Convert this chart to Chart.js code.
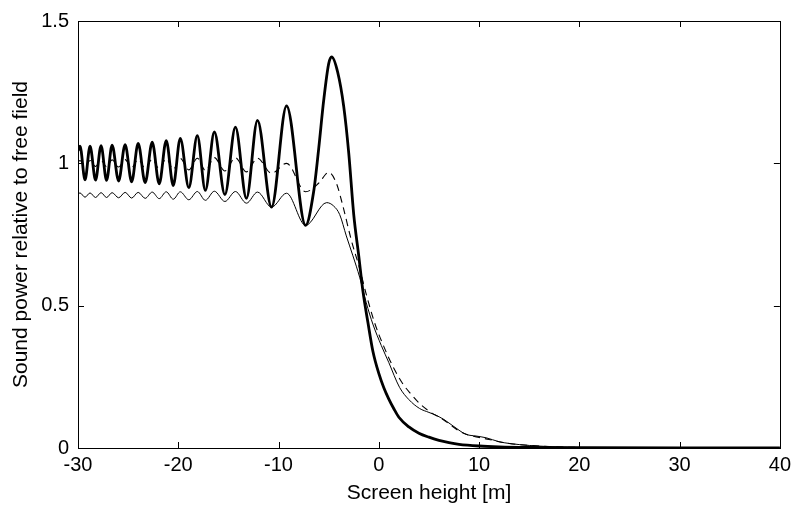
<!DOCTYPE html>
<html>
<head>
<meta charset="utf-8">
<script src="https://cdn.jsdelivr.net/npm/chart.js@4.4.1/dist/chart.umd.min.js"></script>
<style>
  html, body { margin: 0; padding: 0; background: #fff; }
  #wrap { width: 796px; height: 510px; position: relative; }
</style>
</head>
<body>
<div id="wrap"><canvas id="c" width="796" height="510"></canvas></div>
<script>
// ---- data ----
const xTicks = [-30, -20, -10, 0, 10, 20, 30, 40];
const yTicks = [0, 0.5, 1, 1.5];
const yTickLabels = ['0', '0.5', '1', '1.5'];
const xTitle = 'Screen height [m]';
const yTitle = 'Sound power relative to free field';

// thick solid curve
const thickX = [-30, -29.8, -29.3, -28.8, -28.25, -27.7, -27.15, -26.6, -25.95, -25.3, -24.65, -24.0, -23.3, -22.6, -21.9, -21.2, -20.5, -19.8, -18.95, -18.1, -17.3, -16.4, -15.35, -14.3, -13.2, -12.1, -10.7, -9.2, -7.3,
  -6.5, -6.0, -5.5, -5.0, -4.7, -4.1, -3.5, -3.0, -2.5, -2.0, -1.58, -1.08, -0.59, 0, 0.5, 1, 1.5, 2, 3, 4, 5, 6, 7, 8, 10, 12, 15, 20, 30, 40];
const thickY = [1.045, 1.06, 0.942, 1.06, 0.941, 1.062, 0.94, 1.064, 0.938, 1.066, 0.935, 1.07, 0.932, 1.074, 0.928, 1.08, 0.922, 1.088, 0.915, 1.097, 0.905, 1.11, 0.89, 1.127, 0.877, 1.151, 0.846, 1.202, 0.782,
  0.9, 1.05, 1.22, 1.35, 1.374, 1.32, 1.2, 1.037, 0.82, 0.675, 0.55, 0.44, 0.34, 0.262, 0.212, 0.172, 0.138, 0.108, 0.074, 0.052, 0.038, 0.027, 0.019, 0.013, 0.007, 0.004, 0.002, 0.001, 0, 0];

// dashed curve
const dashX = [-30, -29.8, -29.3, -28.8, -28.25, -27.7, -27.15, -26.6, -25.95, -25.3, -24.65, -24.0, -23.3, -22.6, -21.9, -21.2, -20.5, -19.8, -18.95, -18.1, -17.3, -16.4, -15.35, -14.3, -13.2, -12.1, -10.7, -9.2, -7.3,
  -6.0, -5.0, -4.23, -3.58, -2.74, -1.91, -1.25, -0.42, 0.58, 1.5, 2.5, 3.2, 4.2, 5.2, 6.2, 7, 8, 9, 10, 11, 12, 13, 15, 17, 20, 25, 30, 40];
const dashY = [1.005, 1.01, 0.99, 1.01, 0.989, 1.011, 0.988, 1.012, 0.987, 1.013, 0.985, 1.014, 0.983, 1.015, 0.981, 1.016, 0.979, 1.017, 0.977, 1.018, 0.975, 1.02, 0.973, 1.02, 0.97, 1.018, 0.965, 1.0, 0.9,
  0.93, 0.968, 0.93, 0.85, 0.73, 0.63, 0.54, 0.44, 0.35, 0.28, 0.22, 0.19, 0.152, 0.125, 0.105, 0.085, 0.06, 0.045, 0.037, 0.03, 0.022, 0.016, 0.009, 0.005, 0.002, 0.001, 0, 0];

// thin solid curve
const thinX = [-30, -29.8, -29.3, -28.8, -28.25, -27.7, -27.15, -26.6, -25.95, -25.3, -24.65, -24.0, -23.3, -22.6, -21.9, -21.2, -20.5, -19.8, -18.95, -18.1, -17.3, -16.4, -15.35, -14.3, -13.2, -12.1, -10.7, -9.2, -7.3,
  -5.2, -4.5, -3.9, -3.24, -2.58, -1.91, -1.25, -0.59, 0.25, 1, 2.07, 3, 4.06, 5, 5.7, 6.5, 7.5, 8.7, 9.7, 10.7, 12, 13, 15, 17, 20, 25, 30, 40];
const thinY = [0.893, 0.896, 0.881, 0.896, 0.88, 0.897, 0.88, 0.897, 0.879, 0.898, 0.878, 0.898, 0.877, 0.899, 0.876, 0.9, 0.874, 0.9, 0.872, 0.901, 0.87, 0.902, 0.866, 0.901, 0.86, 0.899, 0.846, 0.895, 0.782,
  0.862, 0.85, 0.82, 0.745, 0.675, 0.6, 0.51, 0.435, 0.36, 0.3, 0.213, 0.17, 0.139, 0.125, 0.115, 0.1, 0.075, 0.048, 0.042, 0.036, 0.022, 0.016, 0.009, 0.005, 0.002, 0.001, 0, 0];

const toPts = (xs, ys) => xs.map((x, i) => ({x: x, y: ys[i]}));

const FONT = "'Liberation Sans', Arial, Helvetica, sans-serif";

const frame = {
  id: 'frame',
  afterDatasetsDraw(chart) {
    const {ctx, chartArea: a, scales: {x, y}} = chart;
    ctx.save();
    ctx.strokeStyle = '#000';
    ctx.lineWidth = 1;
    ctx.strokeRect(Math.round(a.left) + 0.5, Math.round(a.top) + 0.5, Math.round(a.right - a.left), Math.round(a.bottom - a.top));
    const L = 6;
    ctx.beginPath();
    xTicks.forEach(v => {
      const px = Math.round(x.getPixelForValue(v)) + 0.5;
      ctx.moveTo(px, a.bottom); ctx.lineTo(px, a.bottom - L);
      ctx.moveTo(px, a.top); ctx.lineTo(px, a.top + L);
    });
    yTicks.forEach(v => {
      const py = Math.round(y.getPixelForValue(v)) + 0.5;
      ctx.moveTo(a.left, py); ctx.lineTo(a.left + L, py);
      ctx.moveTo(a.right, py); ctx.lineTo(a.right - L, py);
    });
    ctx.stroke();
    ctx.restore();
  }
};

new Chart(document.getElementById('c'), {
  type: 'line',
  data: {
    datasets: [
      { data: toPts(thinX, thinY), borderColor: '#000', borderWidth: 1, pointRadius: 0, cubicInterpolationMode: 'monotone', fill: false },
      { data: toPts(dashX, dashY), borderColor: '#000', borderWidth: 1.1, borderDash: [7, 5], pointRadius: 0, cubicInterpolationMode: 'monotone', fill: false },
      { data: toPts(thickX, thickY), borderColor: '#000', borderWidth: 2.8, pointRadius: 0, cubicInterpolationMode: 'monotone', fill: false }
    ]
  },
  options: {
    responsive: false,
    animation: false,
    devicePixelRatio: 1,
    layout: { padding: { top: 17, right: 15, left: 0, bottom: 0 } },
    plugins: { legend: { display: false }, tooltip: { enabled: false } },
    scales: {
      x: {
        type: 'linear', min: -30, max: 40,
        afterBuildTicks: s => { s.ticks = xTicks.map(v => ({value: v})); },
        afterFit: s => { s.height = 62; },
        grid: { display: false, drawTicks: false },
        border: { display: false },
        ticks: { color: '#000', font: { family: FONT, size: 20 }, padding: 5, maxRotation: 0 },
        title: { display: true, text: xTitle, color: '#000', font: { family: FONT, size: 21 }, padding: { top: 0, bottom: 4 } }
      },
      y: {
        type: 'linear', min: 0, max: 1.5,
        afterBuildTicks: s => { s.ticks = yTicks.map(v => ({value: v})); },
        afterFit: s => { s.width = 78; },
        grid: { display: false, drawTicks: false },
        border: { display: false },
        ticks: { color: '#000', font: { family: FONT, size: 20 }, padding: 9,
                 callback: (v) => { const i = yTicks.indexOf(v); return i >= 0 ? yTickLabels[i] : ''; } },
        title: { display: true, text: yTitle, color: '#000', font: { family: FONT, size: 21 }, padding: { top: 9, bottom: 0 } }
      }
    }
  },
  plugins: [frame]
});
</script>
</body>
</html>
